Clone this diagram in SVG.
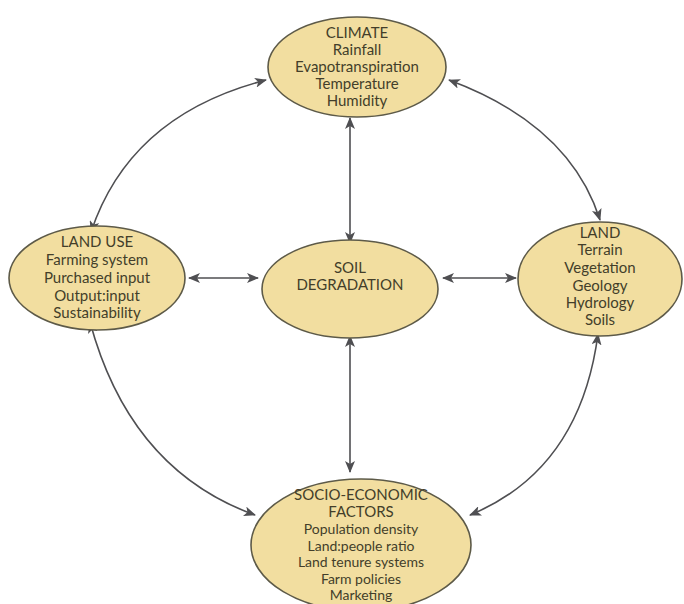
<svg xmlns="http://www.w3.org/2000/svg" width="684" height="604" viewBox="0 0 684 604">
<style>
.n{fill:#f2dea0;stroke:#5d5a48;stroke-width:1.6}
.t{font-family:Lato,"Open Sans",sans-serif;font-size:15px;fill:#433e2a;text-anchor:middle}
.s{font-size:14px}
.c{fill:none;stroke:#4f4f52;stroke-width:1.6;marker-start:url(#a);marker-end:url(#a)}
</style>
<defs>
<marker id="a" viewBox="0 0 12 10" refX="11" refY="5" markerWidth="12" markerHeight="10" markerUnits="userSpaceOnUse" orient="auto-start-reverse">
<path d="M0,0 L12,5 L0,10 L3,5 Z" fill="#4f4f52"/>
</marker>
</defs>
<rect width="684" height="604" fill="#fff"/>
<g id="connectors">
<path class="c" d="M350,118 L350,243"/>
<path class="c" d="M350,336 L350,472"/>
<path class="c" d="M189,278 L258,278"/>
<path class="c" d="M443,278 L516,278"/>
<path class="c" d="M266,80 Q130,115 91,232"/>
<path class="c" d="M449,80 Q570,125 600,220"/>
<path class="c" d="M90,322 Q130,470 255,515"/>
<path class="c" d="M598,334 Q580,470 470,515"/>
</g>
<g id="climate">
<ellipse class="n" cx="357" cy="67" rx="89" ry="50"/>
<text class="t" x="357" y="38">CLIMATE</text>
<text class="t" x="357" y="55">Rainfall</text>
<text class="t" x="357" y="72">Evapotranspiration</text>
<text class="t" x="357" y="89">Temperature</text>
<text class="t" x="357" y="106">Humidity</text>
</g>
<g id="landuse">
<ellipse class="n" cx="97" cy="278" rx="88" ry="52"/>
<text class="t" x="97" y="247">LAND USE</text>
<text class="t" x="97" y="265">Farming system</text>
<text class="t" x="97" y="283">Purchased input</text>
<text class="t" x="97" y="301">Output:input</text>
<text class="t" x="97" y="318">Sustainability</text>
</g>
<g id="soil">
<ellipse class="n" cx="350" cy="289" rx="88" ry="49"/>
<text class="t" x="350" y="273">SOIL</text>
<text class="t" x="350" y="290">DEGRADATION</text>
</g>
<g id="land">
<ellipse class="n" cx="600" cy="279" rx="82" ry="57"/>
<text class="t" x="600" y="238">LAND</text>
<text class="t" x="600" y="255">Terrain</text>
<text class="t" x="600" y="273">Vegetation</text>
<text class="t" x="600" y="291">Geology</text>
<text class="t" x="600" y="308">Hydrology</text>
<text class="t" x="600" y="325">Soils</text>
</g>
<g id="socio">
<ellipse class="n" cx="361" cy="545" rx="110" ry="66"/>
<text class="t" x="361" y="500" font-size="15">SOCIO-ECONOMIC</text>
<text class="t" x="361" y="517" font-size="15">FACTORS</text>
<text class="t s" x="361" y="534">Population density</text>
<text class="t s" x="361" y="550.5">Land:people ratio</text>
<text class="t s" x="361" y="567">Land tenure systems</text>
<text class="t s" x="361" y="583.5">Farm policies</text>
<text class="t s" x="361" y="600">Marketing</text>
</g>
</svg>
